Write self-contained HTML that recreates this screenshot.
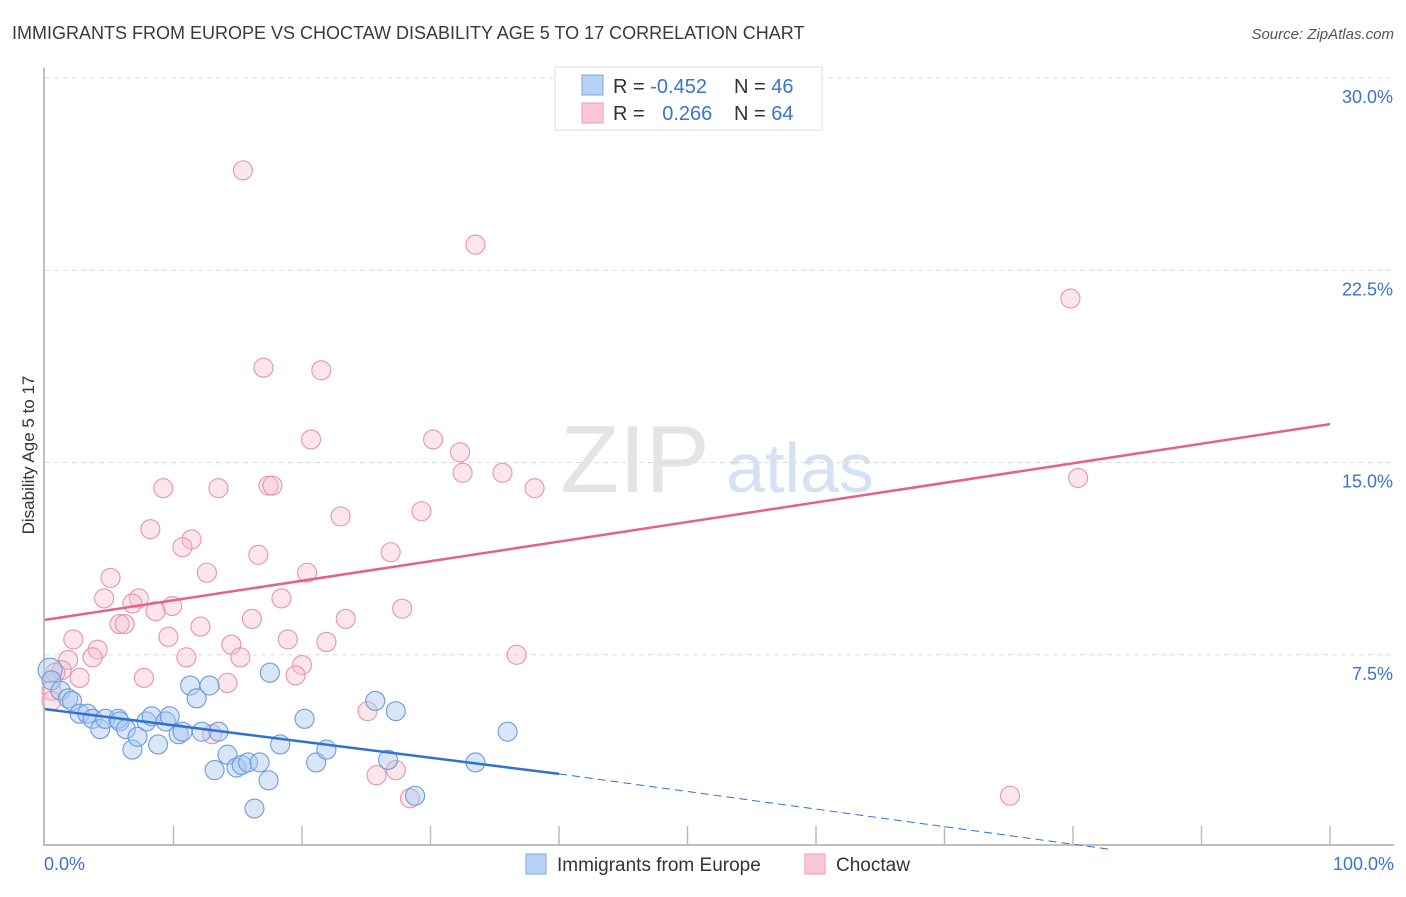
<!DOCTYPE html>
<html><head><meta charset="utf-8"><style>
body{margin:0;background:#fff;font-family:"Liberation Sans",sans-serif;}
svg text{font-family:"Liberation Sans",sans-serif;}
</style></head><body>
<svg id="c" width="1406" height="892" xmlns="http://www.w3.org/2000/svg">
<text x="12" y="39" font-size="18" fill="#3a3a3a">IMMIGRANTS FROM EUROPE VS CHOCTAW DISABILITY AGE 5 TO 17 CORRELATION CHART</text>
<text x="1394" y="39" font-size="15" fill="#555" text-anchor="end" font-style="italic">Source: ZipAtlas.com</text>
<text x="34" y="455" font-size="17" fill="#333" text-anchor="middle" transform="rotate(-90 34 455)">Disability Age 5 to 17</text>
<text x="635" y="492" font-size="96" fill="#e4e4e4" font-family="Liberation Serif" text-anchor="middle">ZIP</text>
<text x="800" y="492" font-size="70" fill="#d4e2f4" text-anchor="middle">atlas</text>
<g id="grid"></g><g id="marks"></g>
<g>
<rect x="555" y="67" width="267" height="63" fill="#fff" stroke="#ddd"/>
<rect x="582" y="75" width="21" height="20" fill="#b7d2f5" stroke="#7aa7e3"/>
<rect x="582" y="103" width="21" height="20" fill="#fbc6d5" stroke="#ec9ab3"/>
<text x="613" y="93" font-size="20" fill="#333">R = <tspan fill="#3a73d0">-0.452</tspan></text>
<text x="734" y="93" font-size="20" fill="#333">N = <tspan fill="#3a73d0">46</tspan></text>
<text x="613" y="120" font-size="20" fill="#333">R = <tspan fill="#3a73d0" dx="12">0.266</tspan></text>
<text x="734" y="120" font-size="20" fill="#333">N = <tspan fill="#3a73d0">64</tspan></text>
</g>
<g>
<rect x="526" y="854" width="20" height="20" fill="#b7d2f5" stroke="#7aa7e3"/>
<text x="557" y="871" font-size="19" fill="#333">Immigrants from Europe</text>
<rect x="805" y="854" width="20" height="20" fill="#fbc6d5" stroke="#ec9ab3"/>
<text x="836" y="871" font-size="19" fill="#333">Choctaw</text>
</g>
<text x="44" y="870" font-size="18" fill="#3a73d0">0.0%</text>
<text x="1394" y="870" font-size="18" fill="#3a73d0" text-anchor="end">100.0%</text>
</svg>
<script>
const yTicks=[7.5,15,22.5,30];
const yTickLabels=["7.5%","15.0%","22.5%","30.0%"];
const blueX=[0.4,0.5,1.2,1.8,2.1,2.7,3.3,3.7,4.3,4.7,5.7,5.8,6.3,6.8,7.2,7.9,8.3,8.8,9.4,9.7,10.4,10.7,11.3,11.8,12.2,12.8,13.2,13.5,14.2,14.9,15.3,15.8,16.3,16.7,17.4,17.5,18.3,20.2,21.1,21.9,25.7,26.7,27.3,28.8,33.5,36.0];
const blueY=[6.9,6.5,6.1,5.8,5.7,5.2,5.2,5.0,4.6,5.0,5.0,4.9,4.6,3.8,4.3,4.9,5.1,4.0,4.9,5.1,4.4,4.5,6.3,5.8,4.5,6.3,3.0,4.5,3.6,3.1,3.2,3.3,1.5,3.3,2.6,6.8,4.0,5.0,3.3,3.8,5.7,3.4,5.3,2.0,3.3,4.5];
const pinkX=[15.4,33.5,79.8,17.0,21.5,20.7,30.2,32.3,32.5,35.6,80.4,38.1,9.2,13.5,17.4,17.7,29.3,23.0,8.2,11.4,10.7,16.6,26.9,12.6,20.4,5.1,4.6,7.3,6.8,9.9,8.6,18.4,16.1,23.4,27.8,5.8,6.2,12.1,9.6,2.2,18.9,14.5,21.9,4.1,3.7,1.8,11.0,15.2,36.7,20.0,1.3,19.5,2.7,7.7,14.2,0.8,0.5,25.1,25.8,27.3,28.4,75.1,13.0,0.5];
const pinkY=[26.4,23.5,21.4,18.7,18.6,15.9,15.9,15.4,14.6,14.6,14.4,14.0,14.0,14.0,14.1,14.1,13.1,12.9,12.4,12.0,11.7,11.4,11.5,10.7,10.7,10.5,9.7,9.7,9.5,9.4,9.2,9.7,8.9,8.9,9.3,8.7,8.7,8.6,8.2,8.1,8.1,7.9,8.0,7.7,7.4,7.3,7.4,7.4,7.5,7.1,6.9,6.7,6.6,6.6,6.4,6.8,6.1,5.3,2.8,3.0,1.9,2.0,4.4,5.7];
const blueLine=[5.38,-0.0632];
const pinkLine=[8.86,0.0764];
const X=v=>45+12.85*v, Y=v=>847-25.63*v;
const NS="http://www.w3.org/2000/svg";
const g=document.getElementById('grid'), m=document.getElementById('marks');
function el(t,a,p){const e=document.createElementNS(NS,t);for(const k in a)e.setAttribute(k,a[k]);p.appendChild(e);return e;}
yTicks.forEach((t,i)=>{
 const l=el('line',{x1:45,x2:1394,y1:Y(t),y2:Y(t),stroke:'#ddd','stroke-dasharray':'5,4'},g);
 
 
 const tx=el('text',{x:1393,y:Y(t)+25,'font-size':18,fill:'#3a73d0','text-anchor':'end'},g);
 tx.textContent=yTickLabels[i];
 
 
});
const ax=el('path',{d:'M44,68 V845 H1394',fill:'none',stroke:'#aaa','stroke-width':1.5},g);


for(let i=1;i<=10;i++){
 const t=el('line',{x1:X(i*10),x2:X(i*10),y1:826,y2:845,stroke:'#bbb','stroke-width':1.5},g);
 
 
}
pinkX.forEach((x,i)=>{
 const c=el('circle',{cx:X(x),cy:Y(pinkY[i]),r:9.5,fill:'#f7bccd','fill-opacity':0.38,stroke:'#e993ae','stroke-width':1.1},m);
 
 
});
blueX.forEach((x,i)=>{
 const c=el('circle',{cx:X(x),cy:Y(blueY[i]),r:i==0?12:9.5,fill:'#a9c8ef','fill-opacity':0.45,stroke:'#6d9be0','stroke-width':1.1},m);
 
 
});
const pl=el('line',{x1:X(0),y1:Y(pinkLine[0]),x2:X(100),y2:Y(pinkLine[0]+100*pinkLine[1]),stroke:'#e5608e','stroke-width':2.5},m);


const bl=el('line',{x1:X(0),y1:Y(blueLine[0]),x2:X(40),y2:Y(blueLine[0]+40*blueLine[1]),stroke:'#2f72d6','stroke-width':2.5},m);


const xe=83;
const bd=el('line',{x1:X(40),y1:Y(blueLine[0]+40*blueLine[1]),x2:X(xe),y2:Y(blueLine[0]+xe*blueLine[1])+6,stroke:'#2f72d6','stroke-width':1,'stroke-dasharray':'8,5'},m);


</script>
</body></html>
